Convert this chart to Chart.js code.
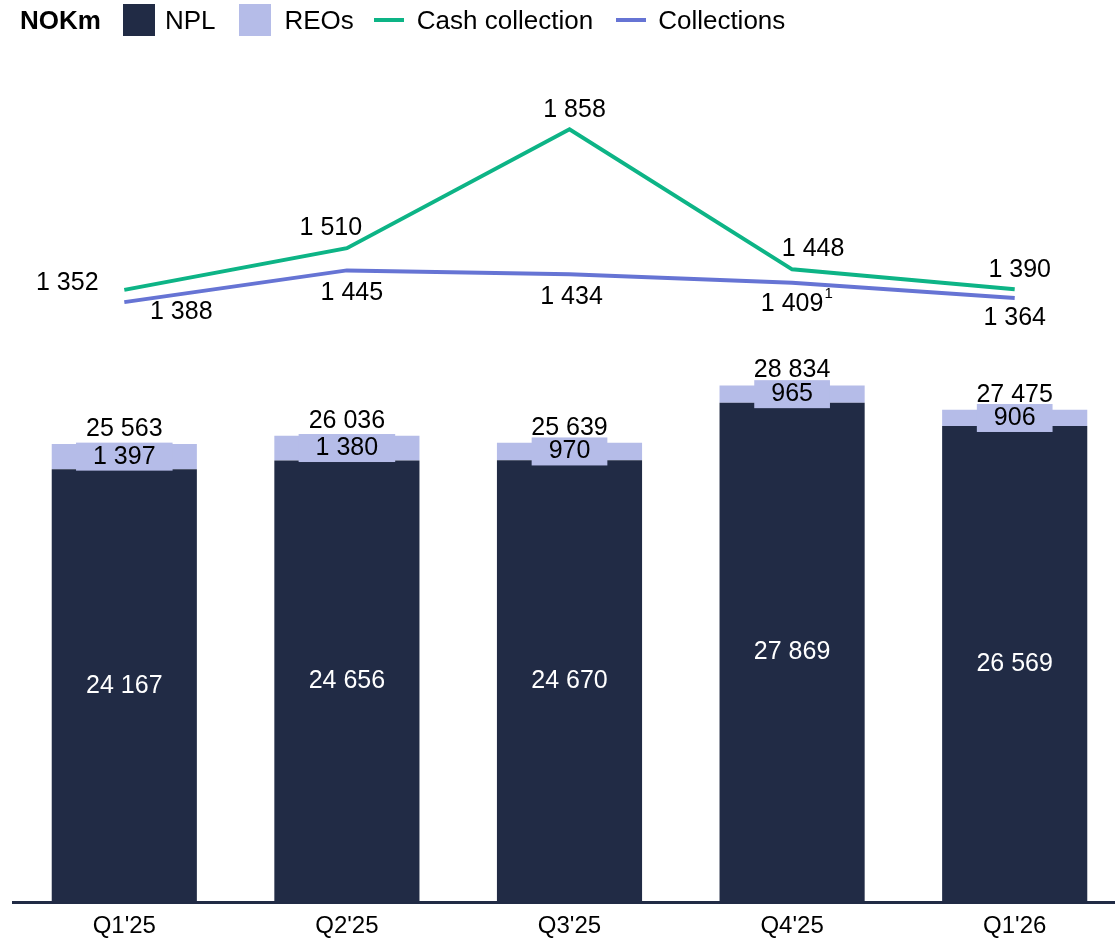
<!DOCTYPE html>
<html>
<head>
<meta charset="utf-8">
<script src="https://cdn.jsdelivr.net/npm/chart.js@4.4.1/dist/chart.umd.min.js"></script>
<style>
  body { margin: 0; overflow: hidden; background: #fff; font-family: 'Liberation Sans', Arial, sans-serif; }
  #wrap { position: relative; width: 1126px; height: 942px; }
  #legend { position: absolute; left: 20px; top: 4px; display: flex; align-items: center; font-size: 26px; color: #000; height: 32px; }
  #legend .box { width: 32px; height: 32px; display: inline-block; }
  #legend .ln { width: 30px; height: 4px; display: inline-block; }
</style>
</head>
<body>
<div id="wrap">
  <canvas id="chart"></canvas>
  <div id="legend">
    <b style="margin-right:22px">NOKm</b>
    <span class="box" style="background:#212B45;margin-right:10px"></span><span style="margin-right:24px">NPL</span>
    <span class="box" style="background:#B5BCE8;margin-right:13px"></span><span style="margin-right:20px">REOs</span>
    <span class="ln" style="background:#0DB486;margin-right:13px"></span><span style="margin-right:23px">Cash collection</span>
    <span class="ln" style="background:#6674D4;margin-right:12px"></span><span>Collections</span>
  </div>
</div>
<script>
// values
const quarters = ["Q1'25", "Q2'25", "Q3'25", "Q4'25", "Q1'26"];
const nplValues = [24167, 24656, 24670, 27869, 26569];
const reoValues = [1397, 1380, 970, 965, 906];
const bookTotals = [25563, 26036, 25639, 28834, 27475];
const cashCollection = [1388, 1510, 1858, 1448, 1390];
const collections = [1352, 1445, 1434, 1409, 1364];
const collectionNotes = ['', '', '', '1', ''];

const NAVY = '#212B45';
const LAVENDER = '#B5BCE8';
const GREEN = '#0DB486';
const BLUE = '#6674D4';
const FONT = "'Liberation Sans', Arial, sans-serif";

// label offsets (px) from each line point, placed like on the slide
const cashOffsets = [[57, 22], [-16, -20], [5, -19], [21, -20], [5, -19]];
const collOffsets = [[-57, -19], [5, 23], [2, 23], [0, 21], [0, 20]];

const fmt = n => String(n).replace(/\B(?=(\d{3})+(?!\d))/g, ' ');

const labelPlugin = {
  id: 'labels',
  afterDatasetsDraw(chart) {
    const ctx = chart.ctx;
    ctx.save();
    ctx.textAlign = 'center';
    ctx.textBaseline = 'middle';
    ctx.font = '25px ' + FONT;

    const npl = chart.getDatasetMeta(0).data;
    const reo = chart.getDatasetMeta(1).data;
    npl.forEach((bar, i) => {
      // NPL value inside the bar
      ctx.fillStyle = '#fff';
      ctx.fillText(fmt(nplValues[i]), bar.x, (bar.y + bar.base) / 2);
      // REO value on a lavender box
      const r = reo[i];
      const txt = fmt(reoValues[i]);
      const w = ctx.measureText(txt).width + 34;
      const cy = (r.y + r.base) / 2;
      ctx.fillStyle = LAVENDER;
      ctx.fillRect(r.x - w / 2, cy - 14, w, 28);
      ctx.fillStyle = '#000';
      ctx.fillText(txt, r.x, cy);
      // total above
      ctx.fillText(fmt(bookTotals[i]), r.x, r.y - 15);
    });

    chart.getDatasetMeta(2).data.forEach((p, i) => {
      ctx.fillStyle = '#000';
      ctx.fillText(fmt(cashCollection[i]), p.x + cashOffsets[i][0], p.y + cashOffsets[i][1]);
    });
    chart.getDatasetMeta(3).data.forEach((p, i) => {
      const txt = fmt(collections[i]);
      const x = p.x + collOffsets[i][0];
      const y = p.y + collOffsets[i][1];
      ctx.fillStyle = '#000';
      ctx.font = '25px ' + FONT;
      ctx.fillText(txt, x, y);
      if (collectionNotes[i]) {
        const w = ctx.measureText(txt).width;
        ctx.font = '15px ' + FONT;
        ctx.textAlign = 'left';
        ctx.fillText(collectionNotes[i], x + w / 2 + 1, y - 10);
        ctx.textAlign = 'center';
      }
    });
    ctx.restore();
  }
};

new Chart(document.getElementById('chart'), {
  type: 'bar',
  data: {
    labels: quarters,
    datasets: [
      { label: 'NPL', data: nplValues, backgroundColor: NAVY, yAxisID: 'y', order: 2 },
      { label: 'REOs', data: reoValues, backgroundColor: LAVENDER, yAxisID: 'y', order: 2 },
      { type: 'line', label: 'Cash collection', data: cashCollection, borderColor: GREEN, borderWidth: 4,
        pointRadius: 0, tension: 0, yAxisID: 'y1', order: 1 },
      { type: 'line', label: 'Collections', data: collections, borderColor: BLUE, borderWidth: 4,
        pointRadius: 0, tension: 0, yAxisID: 'y1', order: 1 }
    ]
  },
  options: {
    responsive: true,
    maintainAspectRatio: false,
    animation: false,
    layout: { padding: { top: 60, left: 13, right: 0, bottom: -9 } },
    datasets: { bar: { barPercentage: 0.652, categoryPercentage: 1 } },
    plugins: { legend: { display: false }, tooltip: { enabled: false } },
    scales: {
      x: {
        stacked: true,
        grid: { display: false, drawTicks: false },
        border: { display: true, color: NAVY, width: 3 },
        ticks: { color: '#000', font: { size: 24, family: FONT }, padding: 10 }
      },
      y: { display: false, stacked: true, min: 0, max: 47000 },
      y1: { display: false, min: -405, max: 2061 }
    }
  },
  plugins: [labelPlugin]
});
</script>
</body>
</html>
